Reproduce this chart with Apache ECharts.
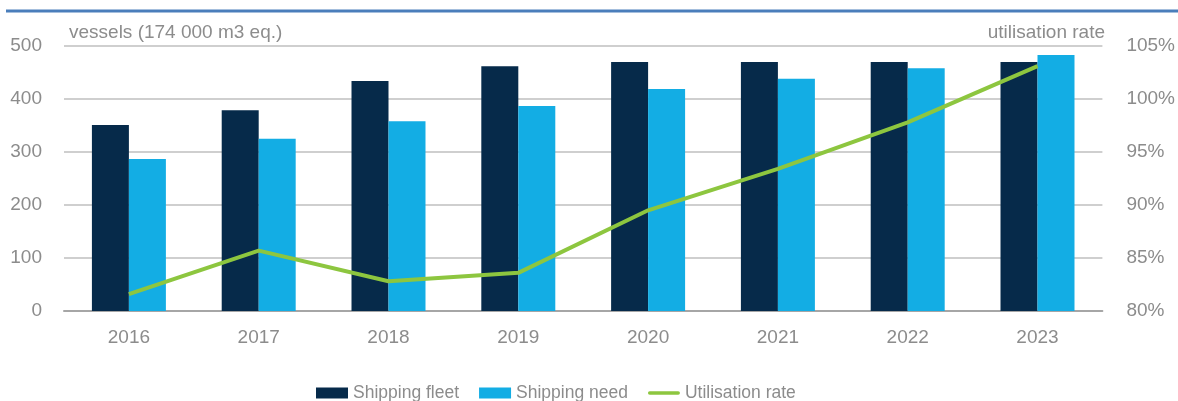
<!DOCTYPE html>
<html>
<head>
<meta charset="utf-8">
<script src="https://cdn.jsdelivr.net/npm/echarts@6/dist/echarts.min.js"></script>
<style>
  html, body { margin: 0; padding: 0; background: #fff; }
  #chart { width: 1178px; height: 401px; }
</style>
</head>
<body>
<div id="chart"></div>
<script>
// LNG shipping fleet vs. shipping need, with fleet utilisation
const years = ['2016', '2017', '2018', '2019', '2020', '2021', '2022', '2023'];
const shippingFleet = [351, 379, 434, 462, 470, 470, 470, 470];
const shippingNeed = [287, 325, 358, 387, 419, 438, 458, 483];
const utilisationRate = [81.6, 85.7, 82.8, 83.6, 89.5, 93.4, 97.8, 103.1];
const leftTicks = [0, 100, 200, 300, 400, 500];
const rightTicks = [80, 85, 90, 95, 100, 105];

const FONT = "'Liberation Sans Narrow', 'Liberation Sans', Arial, sans-serif";
const GREY = '#8c8c8c';

const chart = echarts.init(document.getElementById('chart'), null, { renderer: 'canvas' });

chart.setOption({
  animation: false,
  textStyle: { fontFamily: FONT },
  graphic: [{
    type: 'line',
    shape: { x1: 6, y1: 11, x2: 1178, y2: 11 },
    style: { stroke: '#4a7ebb', lineWidth: 3 }
  }],
  title: [
    { text: 'vessels (174 000 m3 eq.)', left: 64, top: 18,
      textStyle: { fontFamily: FONT, fontSize: 19, fontWeight: 'normal', color: GREY } },
    { text: 'utilisation rate', right: 68, top: 18,
      textStyle: { fontFamily: FONT, fontSize: 19, fontWeight: 'normal', color: GREY } }
  ],
  grid: { left: 64, right: 70, top: 46, bottom: 90, containLabel: false },
  legend: {
    bottom: -6,
    left: 311,
    itemGap: 20,
    itemWidth: 32,
    itemHeight: 11,
    textStyle: { fontFamily: FONT, fontSize: 17.5, color: GREY },
    data: [
      { name: 'Shipping fleet', icon: 'rect' },
      { name: 'Shipping need', icon: 'rect' },
      { name: 'Utilisation rate', icon: 'path://M2,0 L34,0 A2,2 0 0 1 34,4 L2,4 A2,2 0 0 1 2,0 Z' }
    ]
  },
  xAxis: {
    type: 'category',
    data: years,
    axisTick: { show: false },
    axisLine: { lineStyle: { color: '#a6a6a6', width: 2 } },
    axisLabel: { fontFamily: FONT, fontSize: 19, color: GREY, margin: 17 }
  },
  yAxis: [
    {
      type: 'value',
      min: leftTicks[0], max: leftTicks[leftTicks.length - 1], interval: 100,
      axisLine: { show: false }, axisTick: { show: false },
      axisLabel: { fontFamily: FONT, fontSize: 19, color: GREY, margin: 22 },
      splitLine: { lineStyle: { color: '#bfbfbf', width: 1.5 } }
    },
    {
      type: 'value',
      min: rightTicks[0], max: rightTicks[rightTicks.length - 1], interval: 5,
      axisLine: { show: false }, axisTick: { show: false },
      axisLabel: { fontFamily: FONT, fontSize: 19, color: GREY, margin: 24, formatter: '{value}%' },
      splitLine: { show: false }
    }
  ],
  series: [
    {
      name: 'Shipping fleet', type: 'bar', data: shippingFleet,
      barGap: '0%', barCategoryGap: '43%',
      itemStyle: { color: '#062a4a' }
    },
    {
      name: 'Shipping need', type: 'bar', data: shippingNeed,
      itemStyle: { color: '#13ade4' }
    },
    {
      name: 'Utilisation rate', type: 'line', yAxisIndex: 1, data: utilisationRate,
      symbol: 'none',
      lineStyle: { color: '#8dc63f', width: 4 },
      itemStyle: { color: '#8dc63f' }
    }
  ]
});
</script>
</body>
</html>
